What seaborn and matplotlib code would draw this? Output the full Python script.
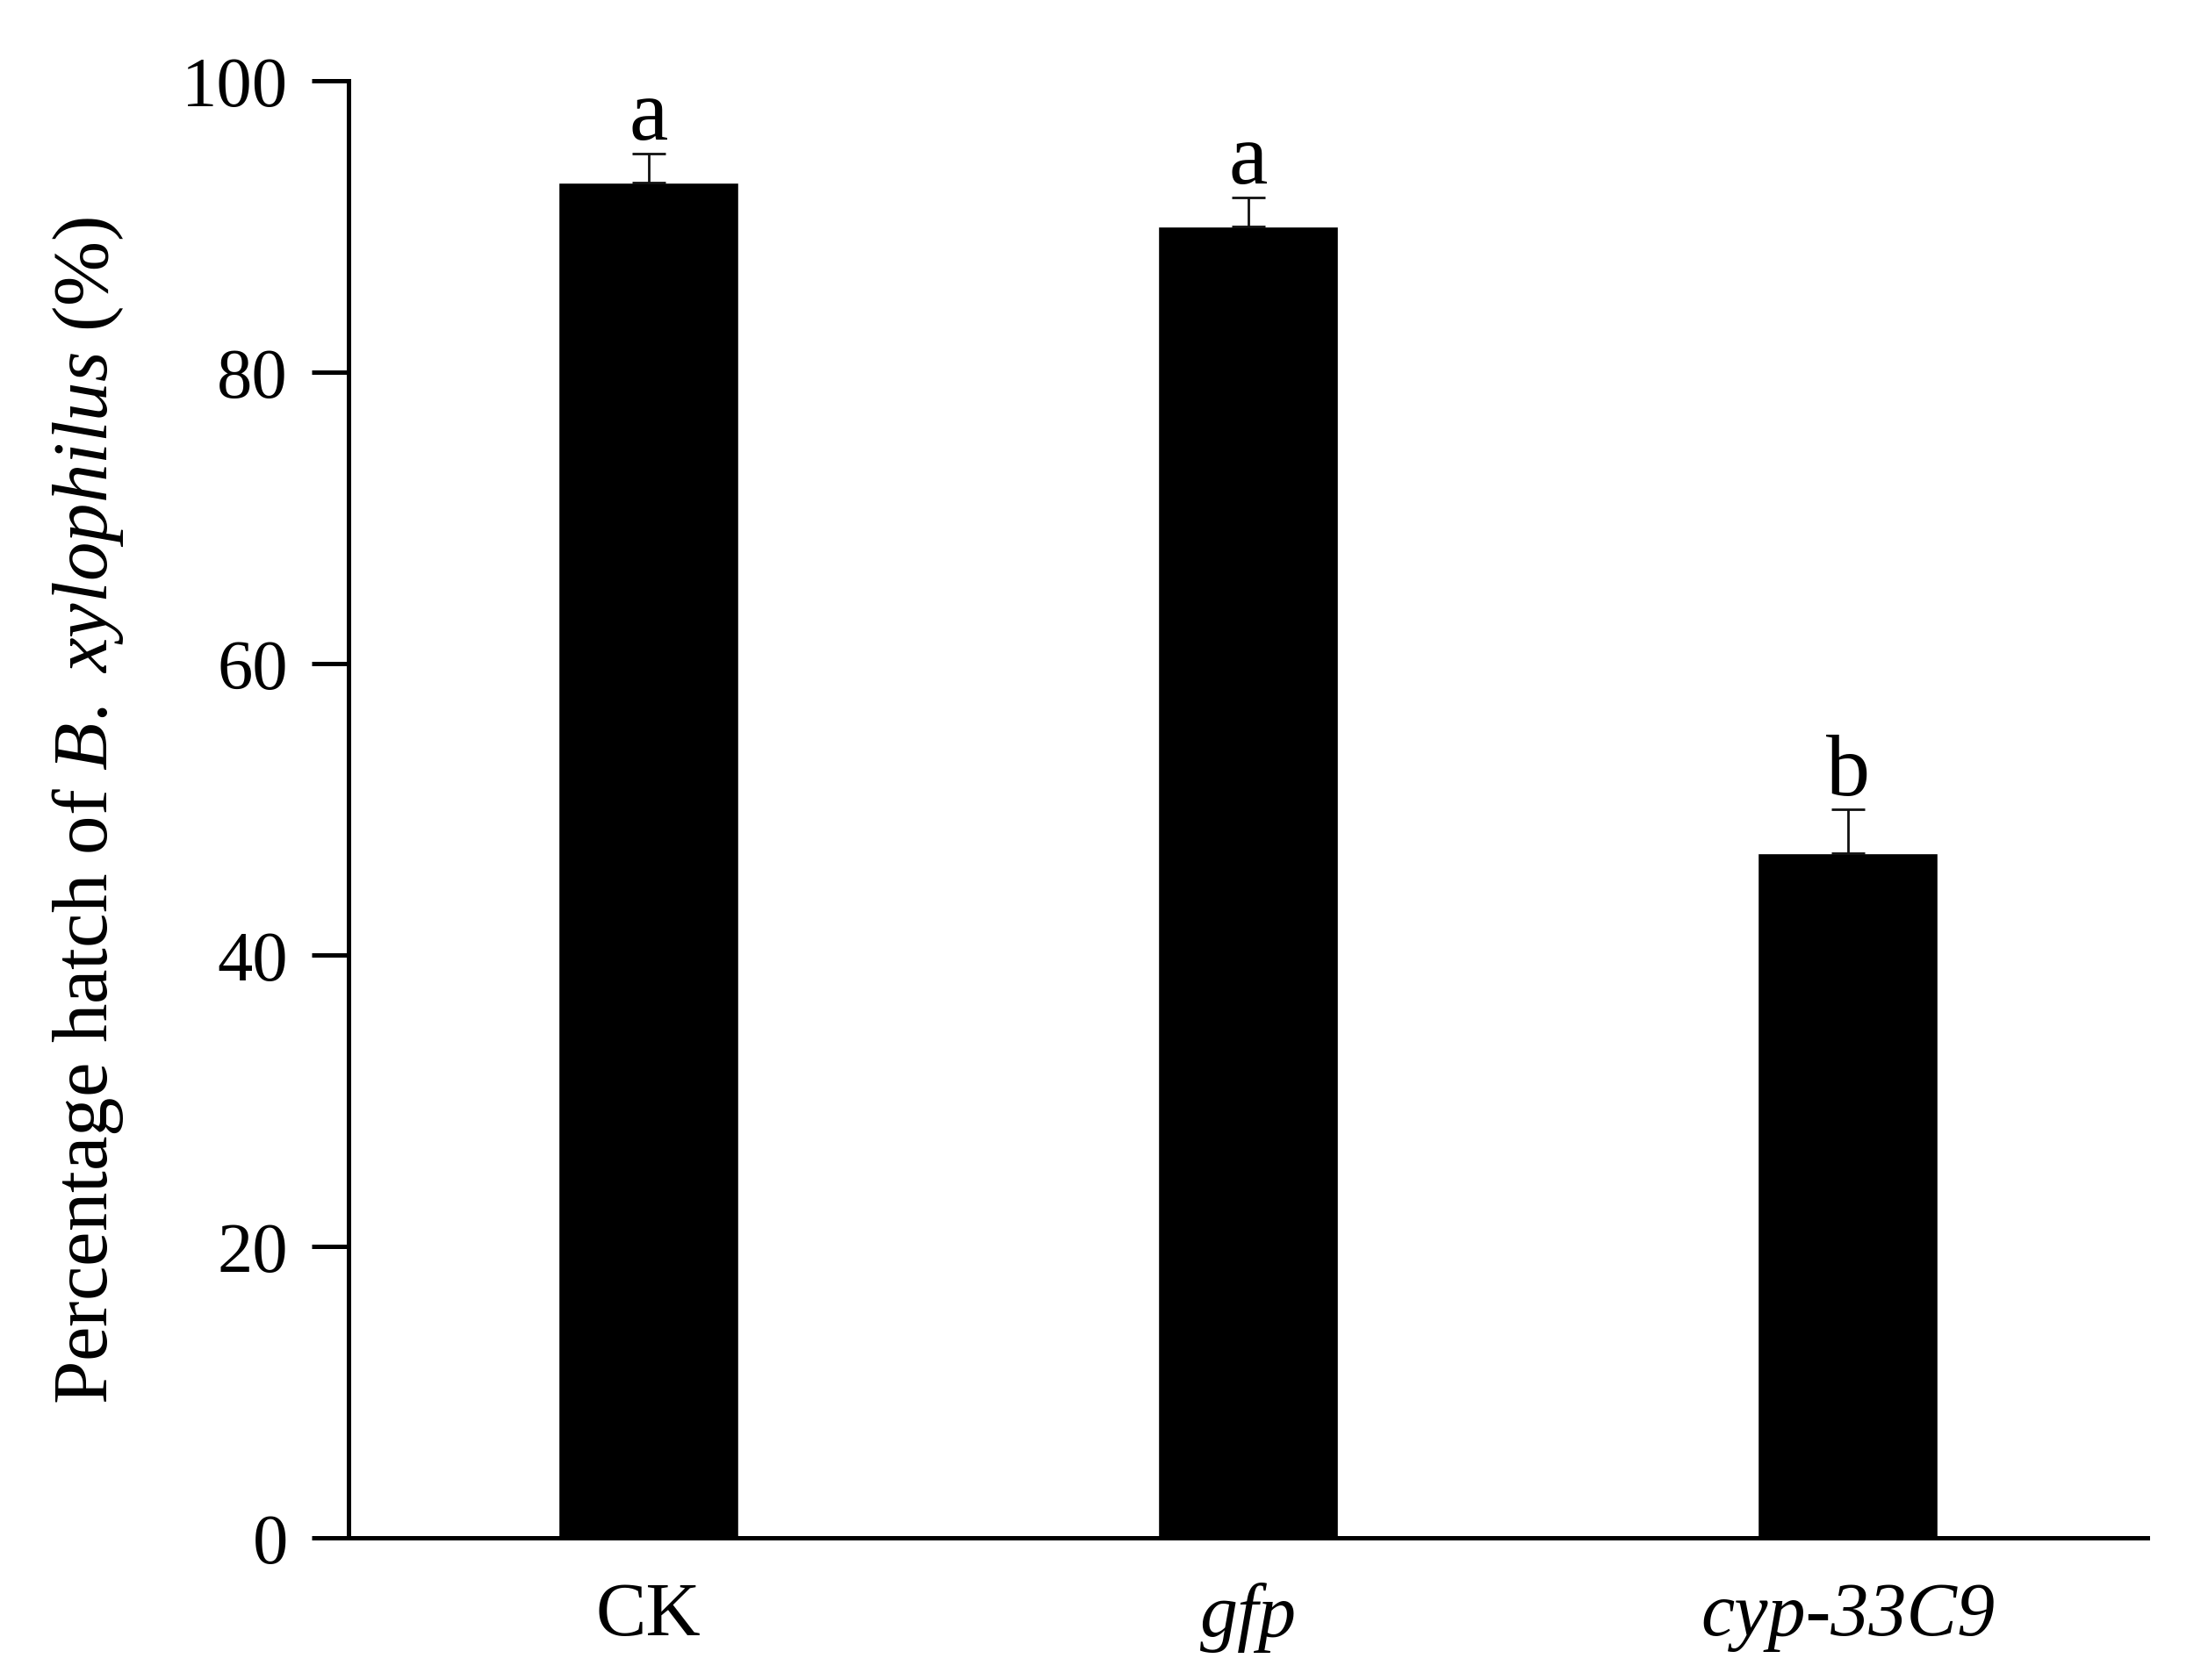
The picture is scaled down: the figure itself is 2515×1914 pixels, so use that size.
import numpy as np
import pandas as pd
import matplotlib
matplotlib.use("Agg")
import matplotlib.pyplot as plt
import seaborn as sns

# data
groups = ["CK", "gfp", "cyp-33C9"]
hatch_pct = [93.0, 90.0, 47.0]
hatch_se = [2.0, 2.0, 3.0]
sig_letters = ["a", "a", "b"]

sns.set_theme(style="ticks")
plt.rcParams["font.family"] = "serif"
plt.rcParams["font.serif"] = ["Liberation Serif", "DejaVu Serif"]
plt.rcParams["text.color"] = "black"
plt.rcParams["axes.labelcolor"] = "black"
plt.rcParams["xtick.color"] = "black"
plt.rcParams["ytick.color"] = "black"
plt.rcParams["mathtext.fontset"] = "custom"
plt.rcParams["mathtext.rm"] = "Liberation Serif"
plt.rcParams["mathtext.it"] = "Liberation Serif:italic"

df = pd.DataFrame({"group": groups, "pct": hatch_pct, "se": hatch_se})

fig = plt.figure(figsize=(25.15, 19.15), dpi=100)
ax = fig.add_axes([0.158, 0.0846, 0.8146, 0.8668])

sns.barplot(data=df, x="group", y="pct", color="black", saturation=1,
            width=0.3, errorbar=None, ax=ax)

# upper-only error bars
ax.errorbar(np.arange(len(groups)), df["pct"],
            yerr=[np.zeros(len(groups)), df["se"]],
            fmt="none", ecolor="#111111", elinewidth=2, capsize=14, capthick=2)

for i, (v, e, s) in enumerate(zip(hatch_pct, hatch_se, sig_letters)):
    ax.text(i, v + e + 1.0, s, ha="center", va="baseline", fontsize=72)

ax.set_xlim(-0.5, 2.5)
ax.set_ylim(0, 100)
ax.set_yticks([0, 20, 40, 60, 80, 100])
ax.tick_params(axis="y", direction="out", length=30, width=3.6, labelsize=58, pad=20)
ax.tick_params(axis="x", length=0, labelsize=62, pad=36)

for lab in ax.get_xticklabels():
    if lab.get_text() != "CK":
        lab.set_fontstyle("italic")

ax.set_xlabel("")
ax.set_ylabel("Percentage hatch of $\\it{B.}$ $\\it{xylophilus}$ (%)", fontsize=64, labelpad=46)

sns.despine(ax=ax)
for side in ["left", "bottom"]:
    ax.spines[side].set_linewidth(3.6)
    ax.spines[side].set_color("black")

fig.savefig("out.png", dpi=100, facecolor="white")
